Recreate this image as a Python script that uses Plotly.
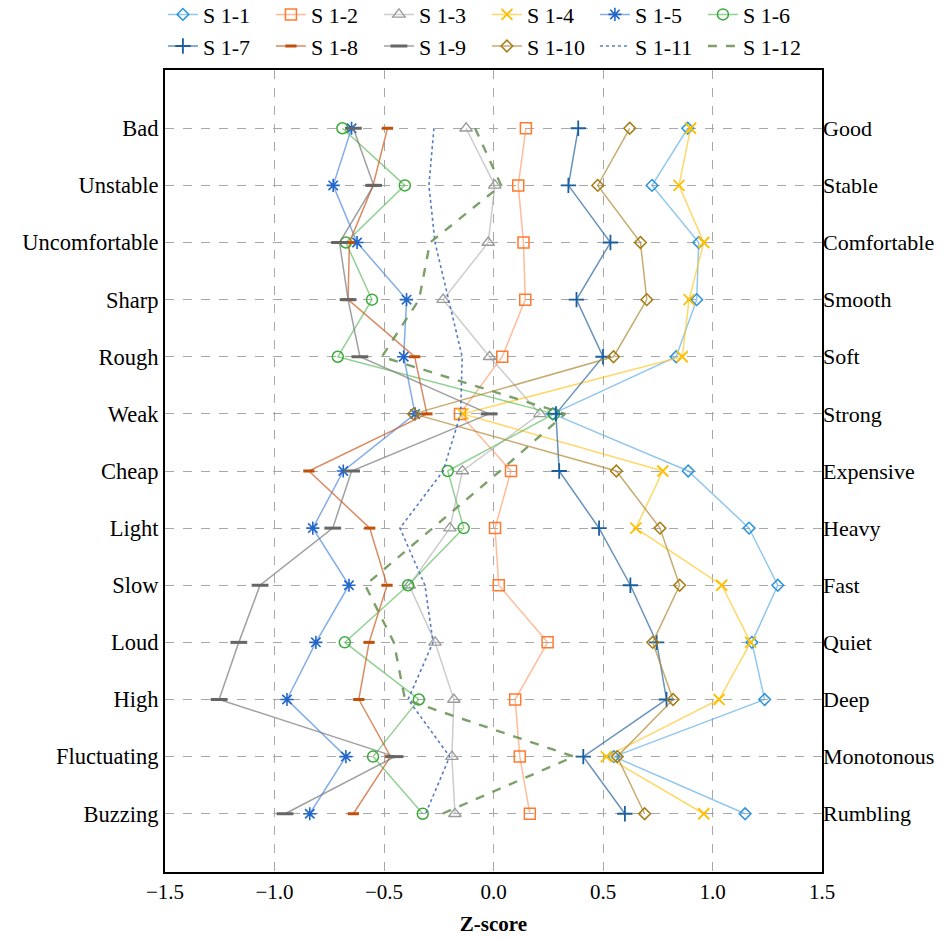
import plotly.graph_objects as go

cats_left = ["Bad", "Unstable", "Uncomfortable", "Sharp", "Rough", "Weak", "Cheap",
             "Light", "Slow", "Loud", "High", "Fluctuating", "Buzzing"]
cats_right = ["Good", "Stable", "Comfortable", "Smooth", "Soft", "Strong", "Expensive",
              "Heavy", "Fast", "Quiet", "Deep", "Monotonous", "Rumbling"]

series_names = ["S 1-1", "S 1-2", "S 1-3", "S 1-4", "S 1-5", "S 1-6",
                "S 1-7", "S 1-8", "S 1-9", "S 1-10", "S 1-11", "S 1-12"]

s1_1 = [0.887, 0.724, 0.937, 0.928, 0.834, 0.27, 0.889, 1.167, 1.298, 1.18, 1.238, 0.55, 1.149]
s1_2 = [0.148, 0.113, 0.137, 0.145, 0.04, -0.153, 0.08, 0.007, 0.024, 0.247, 0.099, 0.12, 0.166]
s1_3 = [-0.125, 0.006, -0.024, -0.23, -0.018, 0.212, -0.142, -0.199, -0.385, -0.267, -0.181, -0.19, -0.176]
s1_4 = [0.90, 0.847, 0.96, 0.893, 0.862, -0.14, 0.773, 0.65, 1.042, 1.174, 1.03, 0.515, 0.96]
s1_5 = [-0.648, -0.732, -0.623, -0.397, -0.41, -0.358, -0.686, -0.825, -0.66, -0.811, -0.943, -0.674, -0.839]
s1_6 = [-0.69, -0.405, -0.674, -0.555, -0.711, 0.276, -0.209, -0.136, -0.39, -0.679, -0.341, -0.55, -0.323]
s1_7 = [0.387, 0.342, 0.534, 0.379, 0.50, 0.285, 0.30, 0.482, 0.625, 0.745, 0.79, 0.41, 0.60]
s1_8 = [-0.484, -0.55, -0.658, -0.664, -0.36, -0.304, -0.843, -0.565, -0.486, -0.568, -0.615, -0.47, -0.64]
s1_9 = [-0.64, -0.547, -0.703, -0.664, -0.61, -0.02, -0.648, -0.734, -1.066, -1.163, -1.253, -0.45, -0.952]
s1_10 = [0.622, 0.476, 0.671, 0.70, 0.548, -0.365, 0.561, 0.76, 0.85, 0.727, 0.82, 0.565, 0.69]
s1_11 = [-0.272, -0.295, -0.267, -0.204, -0.143, -0.15, -0.23, -0.427, -0.313, -0.276, -0.39, -0.2, -0.31]
s1_12 = [-0.084, 0.035, -0.29, -0.34, -0.51, 0.327, 0.03, -0.28, -0.586, -0.455, -0.404, 0.367, -0.234]

x_ticks = [-1.5, -1.0, -0.5, 0.0, 0.5, 1.0, 1.5]
x_tick_text = ["\u22121.5", "\u22121.0", "\u22120.5", "0.0", "0.5", "1.0", "1.5"]

all_series = [s1_1, s1_2, s1_3, s1_4, s1_5, s1_6, s1_7, s1_8, s1_9, s1_10, s1_11, s1_12]

# style: (line color, marker color, symbol, marker size, marker line width, dash, line width)
styles = [
    ("rgba(100,175,230,0.7)", "#2b95dc", "diamond-open", 9, 1.5, "solid", 1.5),
    ("rgba(255,150,100,0.65)", "#ff7a2e", "square-open", 11, 1.5, "solid", 1.5),
    ("rgba(170,170,170,0.6)", "#9a9a9a", "triangle-up-open", 11, 1.3, "solid", 1.5),
    ("rgba(255,200,40,0.7)", "#ffbf00", "x-thin-open", 11, 1.8, "solid", 1.5),
    ("rgba(90,145,225,0.75)", "#2166c8", "asterisk-open", 11, 1.6, "solid", 1.5),
    ("rgba(100,190,100,0.7)", "#3aaa3a", "circle-open", 11, 1.5, "solid", 1.5),
    ("rgba(40,100,160,0.7)", "#1b5f9e", "cross-thin-open", 11, 1.8, "solid", 1.5),
    ("rgba(205,100,45,0.75)", "#c0500a", "line-ew-open", 8, 3.0, "solid", 1.5),
    ("rgba(120,120,120,0.7)", "#666666", "line-ew-open", 12, 3.0, "solid", 1.5),
    ("rgba(175,135,50,0.7)", "#a67c14", "diamond-open", 9, 1.5, "solid", 1.5),
    ("rgba(70,110,190,0.9)", "#4a72c0", "circle", 1, 0, "dot", 1.6),
    ("rgba(110,150,90,0.9)", "#6e965a", "circle", 1, 0, "dash", 2.4),
]

y_idx = list(range(len(cats_left)))

fig = go.Figure()
for name, vals, st in zip(series_names, all_series, styles):
    lc, mc, sym, ms, mlw, dash, lw = st
    if sym == "circle" and ms == 1:
        fig.add_trace(go.Scatter(x=vals, y=y_idx, name=name, mode="lines",
                                 line=dict(color=lc, dash=dash, width=lw)))
    else:
        fig.add_trace(go.Scatter(x=vals, y=y_idx, name=name, mode="lines+markers",
                                 line=dict(color=lc, dash=dash, width=lw),
                                 marker=dict(symbol=sym, size=ms, color=mc,
                                             line=dict(color=mc, width=mlw))))

# invisible trace for the right axis
fig.add_trace(go.Scatter(x=[0], y=[0], yaxis="y2", mode="markers",
                         marker=dict(opacity=0), showlegend=False, hoverinfo="skip"))

font_family = "Liberation Serif, Times New Roman, serif"
yr = [13.02, -1.02]

fig.update_layout(
    width=951, height=938,
    margin=dict(l=165, r=129, t=70, b=66, autoexpand=False),
    paper_bgcolor="white", plot_bgcolor="white",
    font=dict(family=font_family, size=22, color="black"),
    xaxis=dict(range=[-1.5, 1.5], tickvals=x_ticks, ticktext=x_tick_text,
               showgrid=True, gridcolor="#a8a8a8", griddash="dash", gridwidth=1,
               zeroline=False, showline=True, linecolor="black", linewidth=2,
               mirror=True, ticks="", tickfont=dict(size=21),
               title=dict(text="<b>Z-score</b>", font=dict(size=21), standoff=13)),
    yaxis=dict(range=yr, tickvals=y_idx, ticktext=cats_left, showgrid=True,
               gridcolor="#a8a8a8", griddash="dash", gridwidth=1, zeroline=False,
               showline=True, linecolor="black", linewidth=2, mirror=True,
               ticks="", tickfont=dict(size=22.5)),
    yaxis2=dict(range=yr, tickvals=y_idx, ticktext=cats_right, overlaying="y",
                side="right", showgrid=False, zeroline=False, ticks="",
                tickfont=dict(size=22)),
    legend=dict(orientation="h", x=0.49, xanchor="center", y=1.003, yanchor="bottom",
                font=dict(size=22), entrywidth=63, entrywidthmode="pixels",
                tracegroupgap=0, itemwidth=30, bgcolor="rgba(0,0,0,0)"),
)

fig.write_html("out.html", config={"displayModeBar": False},
               post_script="document.body.style.margin='0';")
